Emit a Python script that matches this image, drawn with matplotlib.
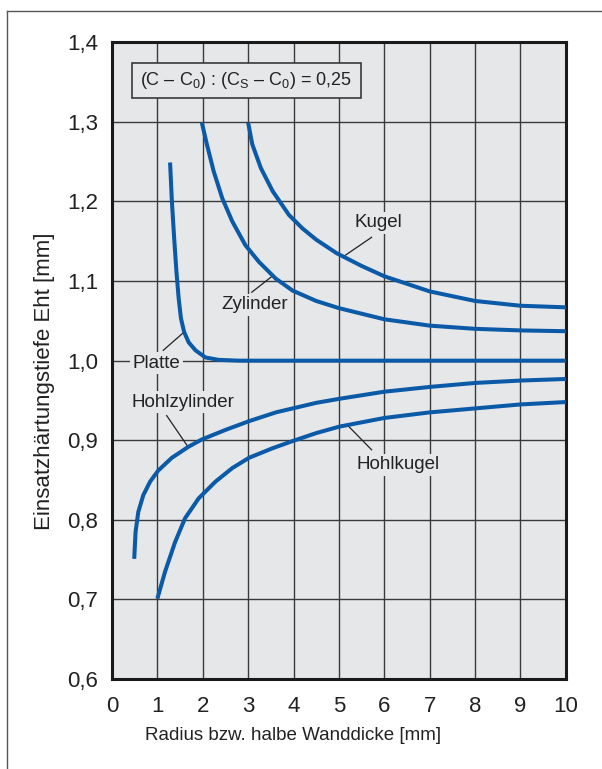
import matplotlib.pyplot as plt
from matplotlib.lines import Line2D
from matplotlib.patches import Rectangle

plt.rcParams['font.family'] = ['Liberation Sans', 'DejaVu Sans']
plt.rcParams['mathtext.fontset'] = 'custom'
plt.rcParams['mathtext.rm'] = 'Liberation Sans'
plt.rcParams['mathtext.it'] = 'Liberation Sans'

# Einsatzhaertungstiefe ueber Radius / halber Wanddicke
kugel_x = [3.0, 3.09, 3.28, 3.54, 3.9, 4.2, 4.5, 4.95, 5.5, 6, 7, 8, 9, 10]
kugel_y = [1.299, 1.272, 1.242, 1.213, 1.183, 1.166, 1.152, 1.135, 1.119, 1.106, 1.087, 1.075, 1.069, 1.067]

zyl_x = [1.98, 2.09, 2.24, 2.43, 2.65, 2.94, 3.24, 3.61, 3.98, 4.5, 5, 6, 7, 8, 9, 10]
zyl_y = [1.299, 1.272, 1.238, 1.204, 1.175, 1.145, 1.124, 1.103, 1.088, 1.075, 1.066, 1.052, 1.044, 1.040, 1.038, 1.037]

platte_x = [1.28, 1.32, 1.37, 1.42, 1.47, 1.52, 1.59, 1.69, 1.84, 2.06, 2.35, 2.8, 10]
platte_y = [1.249, 1.200, 1.154, 1.112, 1.078, 1.053, 1.036, 1.023, 1.013, 1.004, 1.001, 1.0, 1.0]

hzyl_x = [0.49, 0.52, 0.58, 0.69, 0.84, 1.02, 1.32, 1.69, 1.98, 2.5, 3.02, 3.61, 4.5, 5, 6, 7, 8, 9, 10]
hzyl_y = [0.751, 0.785, 0.810, 0.831, 0.848, 0.862, 0.878, 0.892, 0.901, 0.913, 0.924, 0.935, 0.947, 0.952, 0.961, 0.967, 0.972, 0.975, 0.977]

hkug_x = [1.0, 1.17, 1.39, 1.61, 1.91, 2.28, 2.65, 3.02, 3.54, 3.98, 4.5, 5, 6, 7, 8, 9, 10]
hkug_y = [0.701, 0.735, 0.772, 0.802, 0.827, 0.848, 0.865, 0.878, 0.890, 0.899, 0.909, 0.917, 0.928, 0.935, 0.940, 0.945, 0.948]

x_ticks = list(range(0, 11))
y_ticks = [0.6, 0.7, 0.8, 0.9, 1.0, 1.1, 1.2, 1.3, 1.4]
y_ticklabels = ['0,6', '0,7', '0,8', '0,9', '1,0', '1,1', '1,2', '1,3', '1,4']

blue = '#0a5aa8'
bg = '#e6e7e9'
ink = '#222222'

fig = plt.figure(figsize=(6.02, 7.69), dpi=100)
ax = fig.add_axes([0.186, 0.117, 0.754, 0.828])
ax.set_facecolor(bg)

for xs, ys in [(kugel_x, kugel_y), (zyl_x, zyl_y), (platte_x, platte_y),
               (hzyl_x, hzyl_y), (hkug_x, hkug_y)]:
    ax.plot(xs, ys, color=blue, lw=2.9, solid_capstyle='butt',
            solid_joinstyle='round', zorder=4)

ax.set_xlim(0, 10)
ax.set_ylim(0.6, 1.4)
ax.set_xticks(x_ticks)
ax.set_yticks(y_ticks)
ax.set_yticklabels(y_ticklabels)
ax.tick_params(length=0, labelsize=16, colors=ink)
ax.tick_params(axis='x', pad=12)
ax.tick_params(axis='y', pad=10)
ax.grid(True, color='#3a3a3a', lw=1.0)
ax.set_axisbelow(True)
for s in ax.spines.values():
    s.set_linewidth(2.2)
    s.set_color('#1a1a1a')

ax.set_xlabel('Radius bzw. halbe Wanddicke [mm]', fontsize=13.5, va='center', color=ink)
ax.xaxis.set_label_coords(0.399, -0.089)
ax.set_ylabel('Einsatzhärtungstiefe Eht [mm]', fontsize=16, va='center', color=ink)
ax.yaxis.set_label_coords(-0.148, 0.468)

# Kurvenbeschriftungen mit Hinweislinien
labels = [
    ('Kugel', 5.87, 1.173, (5.72, 1.155), (5.13, 1.132)),
    ('Zylinder', 3.15, 1.070, (3.08, 1.086), (3.55, 1.107)),
    ('Platte', 0.985, 0.997, (1.13, 1.013), (1.59, 1.036)),
    ('Hohlzylinder', 1.57, 0.948, (1.205, 0.931), (1.66, 0.893)),
    ('Hohlkugel', 6.31, 0.869, (5.72, 0.888), (5.17, 0.920)),
]
for txt, tx, ty, p0, p1 in labels:
    ax.text(tx, ty, txt, fontsize=13.5, ha='center', va='center', color=ink, zorder=3,
            bbox=dict(facecolor=bg, edgecolor='none', pad=2))
    ax.plot([p0[0], p1[0]], [p0[1], p1[1]], color=ink, lw=0.9, zorder=3)

# Kasten mit dem Verhaeltnis
ax.add_patch(Rectangle((0.0434, 0.913), 0.505, 0.055, transform=ax.transAxes,
                       facecolor=bg, edgecolor='#3a3a3a', lw=1.2, zorder=5))
ax.text(0.296, 0.9405, r'(C – C$_0$) : (C$_\mathrm{S}$ – C$_0$) = 0,25', fontsize=13,
        ha='center', va='center', color=ink, zorder=6, transform=ax.transAxes)

# Rahmen um die Grafik
fig.add_artist(Line2D([0.0116, 0.0116], [0.0, 0.9857], color='#555555', lw=1.0))
fig.add_artist(Line2D([0.0116, 1.0], [0.9857, 0.9857], color='#555555', lw=1.0))

fig.savefig('out.png', dpi=100)
